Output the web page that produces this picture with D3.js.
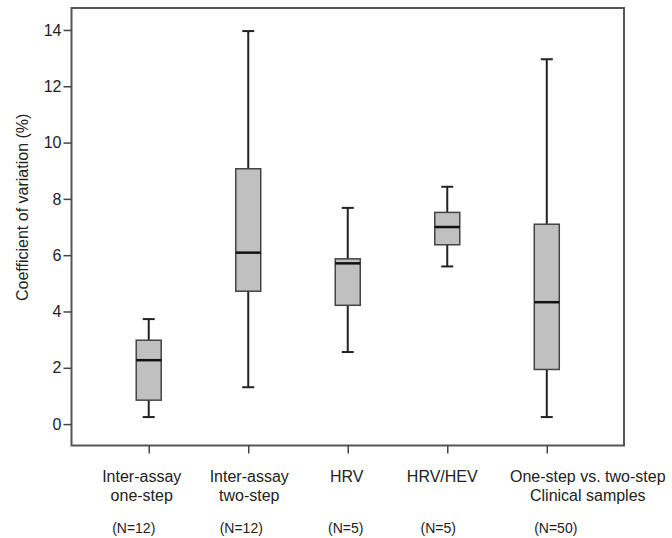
<!DOCTYPE html>
<html>
<head>
<meta charset="utf-8">
<script src="https://cdn.jsdelivr.net/npm/d3@7"></script>
<style>
  body { margin: 0; background: #fff; }
  text { font-family: "Liberation Sans", Arial, sans-serif; fill: #222; }
</style>
</head>
<body>
<div id="chart"></div>
<script>
// groups
var groups = ["Inter-assay one-step", "Inter-assay two-step", "HRV", "HRV/HEV", "One-step vs. two-step Clinical samples"];
var labelLines = [["Inter-assay", "one-step"], ["Inter-assay", "two-step"], ["HRV"], ["HRV/HEV"], ["One-step vs. two-step", "Clinical samples"]];
var counts = ["(N=12)", "(N=12)", "(N=5)", "(N=5)", "(N=50)"];

// five number summaries (%)
var whiskerLow = [0.25, 1.31, 2.56, 5.60, 0.25];
var q1 = [0.85, 4.72, 4.22, 6.37, 1.94];
var median = [2.27, 6.09, 5.71, 7.00, 4.33];
var q3 = [2.98, 9.07, 5.87, 7.52, 7.10];
var whiskerHigh = [3.73, 13.96, 7.68, 8.43, 12.96];

var yTicks = [0, 2, 4, 6, 8, 10, 12, 14];

var svgWidth = 672;
var svgHeight = 538;

var margin = { top: 8, right: 48, bottom: 92.5, left: 71.5 };
var width = svgWidth - margin.left - margin.right;
var height = svgHeight - margin.top - margin.bottom;

// the labels under the axis are not quite centred on their ticks
var labelShift = [-7, 1, -1, -5, 41];
var countShift = [-15, -7, -2, -9, 9];

var svg = d3.select("#chart")
  .append("svg")
    .attr("width", svgWidth)
    .attr("height", svgHeight);

var chartGroup = svg.append("g")
  .attr("transform", `translate(${margin.left}, ${margin.top})`);

var data = groups.map(function(g, i) {
  return { name: g, low: whiskerLow[i], q1: q1[i], med: median[i], q3: q3[i], high: whiskerHigh[i], lines: labelLines[i], n: counts[i], dx: labelShift[i], ndx: countShift[i] };
});

var xScale = d3.scalePoint()
  .domain(groups)
  .range([0, width])
  .padding(0.776);

var yScale = d3.scaleLinear()
  .domain([-0.76, 14.78])
  .range([height, 0]);

// frame
chartGroup.append("rect")
  .attr("x", 0)
  .attr("y", 0)
  .attr("width", width)
  .attr("height", height)
  .attr("fill", "none")
  .attr("stroke", "#555")
  .attr("stroke-width", 2);

// y axis
var leftAxis = d3.axisLeft(yScale).tickValues(yTicks).tickSize(8).tickPadding(2);
var yAxis = chartGroup.append("g").call(leftAxis);
yAxis.select(".domain").remove();
yAxis.selectAll("line").attr("stroke", "#444").attr("stroke-width", 1.5);
yAxis.selectAll("text")
  .style("font-family", "'Liberation Sans', Arial, sans-serif")
  .style("font-size", "16px")
  .attr("fill", "#333");

// x axis ticks only
var bottomAxis = d3.axisBottom(xScale).tickSize(8).tickFormat("");
var xAxis = chartGroup.append("g")
  .attr("transform", `translate(0, ${height})`)
  .call(bottomAxis);
xAxis.select(".domain").remove();
xAxis.selectAll("line").attr("stroke", "#444").attr("stroke-width", 1.5);

// x labels
var labels = chartGroup.append("g")
  .attr("transform", `translate(0, ${height})`);

data.forEach(function(d) {
  var t = labels.append("text")
    .attr("text-anchor", "middle")
    .style("font-size", "16px")
    .attr("fill", "#222");
  d.lines.forEach(function(line, j) {
    t.append("tspan")
      .attr("x", xScale(d.name) + d.dx)
      .attr("y", 36 + j * 19.5)
      .text(line);
  });
  labels.append("text")
    .attr("text-anchor", "middle")
    .attr("x", xScale(d.name) + d.ndx)
    .attr("y", 87)
    .style("font-size", "14px")
    .attr("fill", "#222")
    .text(d.n);
});

// y title
chartGroup.append("text")
  .attr("transform", "rotate(-90)")
  .attr("x", -(yScale(7.7)))
  .attr("y", -44)
  .attr("text-anchor", "middle")
  .style("font-size", "16px")
  .attr("fill", "#222")
  .text("Coefficient of variation (%)");

// boxes
var boxWidth = 25;
var capWidth = 12;

var node = chartGroup.selectAll("g.box")
  .data(data)
  .enter().append("g")
  .attr("class", "box");

node.append("line")
  .attr("x1", d => xScale(d.name))
  .attr("x2", d => xScale(d.name))
  .attr("y1", d => yScale(d.high))
  .attr("y2", d => yScale(d.low))
  .attr("stroke", "#222")
  .attr("stroke-width", 2);

node.append("line")
  .attr("x1", d => xScale(d.name) - capWidth / 2)
  .attr("x2", d => xScale(d.name) + capWidth / 2)
  .attr("y1", d => yScale(d.high))
  .attr("y2", d => yScale(d.high))
  .attr("stroke", "#222")
  .attr("stroke-width", 2);

node.append("line")
  .attr("x1", d => xScale(d.name) - capWidth / 2)
  .attr("x2", d => xScale(d.name) + capWidth / 2)
  .attr("y1", d => yScale(d.low))
  .attr("y2", d => yScale(d.low))
  .attr("stroke", "#222")
  .attr("stroke-width", 2);

node.append("rect")
  .attr("x", d => xScale(d.name) - boxWidth / 2)
  .attr("y", d => yScale(d.q3))
  .attr("width", boxWidth)
  .attr("height", d => yScale(d.q1) - yScale(d.q3))
  .attr("fill", "#c0c0c0")
  .attr("stroke", "#444")
  .attr("stroke-width", 1.5);

node.append("line")
  .attr("x1", d => xScale(d.name) - boxWidth / 2)
  .attr("x2", d => xScale(d.name) + boxWidth / 2)
  .attr("y1", d => yScale(d.med))
  .attr("y2", d => yScale(d.med))
  .attr("stroke", "#111")
  .attr("stroke-width", 2.5);
</script>
</body>
</html>
